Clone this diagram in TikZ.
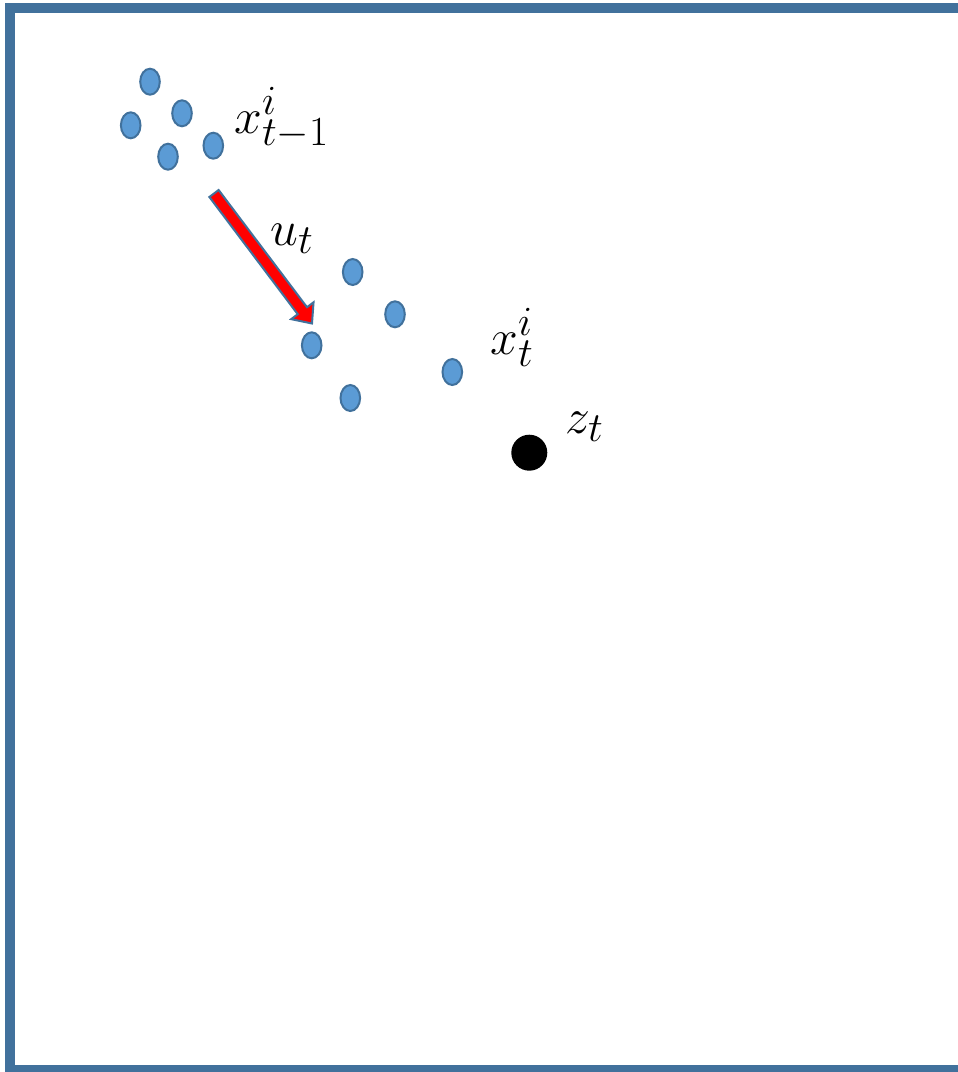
\documentclass[tikz,border=0pt]{standalone}
\usepackage{xcolor}
\usetikzlibrary{arrows.meta, positioning, shapes.geometric, calc}
\definecolor{frameblue}{HTML}{41719C}
\definecolor{particleblue}{HTML}{5B9BD5}

\begin{document}
\begin{tikzpicture}[
    x=0.5pt, y=-0.5pt,
    particle/.style={ellipse, draw=frameblue, fill=particleblue, line width=1pt, minimum width=9.8pt, minimum height=13pt, inner sep=0pt},
    measure/.style={circle, fill=black, minimum size=18pt, inner sep=0pt},
    lbl/.style={inner sep=0pt, anchor=base west, font=\Huge},
    blockarrow/.style={draw=frameblue, fill=red, line width=1pt, line join=miter}
]
\useasboundingbox (0,0) rectangle (958,1072);

% --- Frame ---
\begin{scope}
\clip (0,0) rectangle (958,1072);
\draw[frameblue, line width=5pt] (9.7,8.3) rectangle (1100,1070);
\end{scope}

% --- Particles at t-1 ---
\node[particle] (p1) at (150,81.7) {};
\node[particle] (p2) at (130.7,125.3) {};
\node[particle] (p3) at (182,113.3) {};
\node[particle] (p4) at (168,156.7) {};
\node[particle] (p5) at (213.3,145.7) {};
\node[lbl] (prevlbl) at (234,133) {$x^i_{t-1}$};

% --- Particles at t ---
\node[particle] (q1) at (352.7,272) {};
\node[particle] (q2) at (395,314.3) {};
\node[particle] (q3) at (311.7,345.3) {};
\node[particle] (q4) at (350.3,398) {};
\node[particle] (q5) at (452.3,372) {};
\node[lbl] (curlbl) at (490,354) {$x^i_t$};

% --- Measurement ---
\node[measure] (z) at (529.3,452.7) {};
\node[lbl] (zlbl) at (565,433) {$z_t$};

% --- Control input ---
\coordinate (ut-tail) at (214,193.5);
\coordinate (ut-tip) at (312,323.5);
\coordinate (ut-neck) at ($(ut-tip)!8pt!(ut-tail)$);
\draw[blockarrow] ($(ut-tail)!2.9pt!90:(ut-tip)$) -- ($(ut-neck)!2.9pt!90:(ut-tip)$)
    -- ($(ut-neck)!7pt!90:(ut-tip)$) -- (ut-tip) -- ($(ut-neck)!7pt!-90:(ut-tip)$)
    -- ($(ut-neck)!2.9pt!-90:(ut-tip)$) -- ($(ut-tail)!2.9pt!-90:(ut-tip)$) -- cycle;
\node[lbl] (ulbl) at (270,245) {$u_t$};

\end{tikzpicture}
\end{document}
